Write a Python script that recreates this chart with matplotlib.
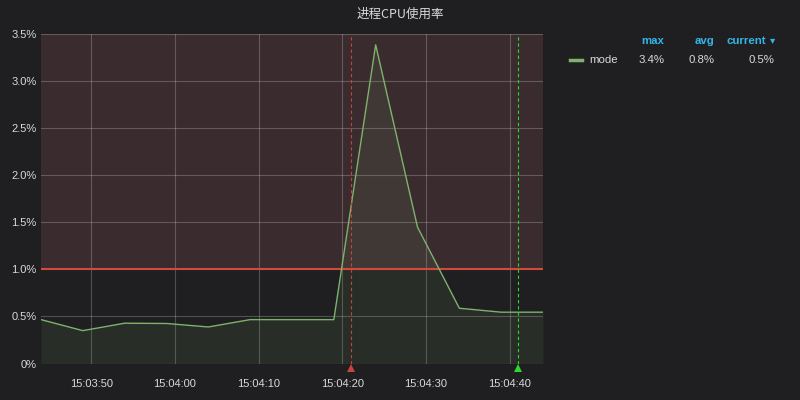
import matplotlib
matplotlib.use("Agg")
import matplotlib.pyplot as plt
import matplotlib.transforms as mtransforms
from datetime import datetime

plt.rcParams['font.family'] = ['Liberation Sans', 'Noto Sans CJK SC', 'DejaVu Sans']

# --- données ---
title = "进程CPU使用率"
series_name = "mode"
times = ["15:03:44", "15:03:49", "15:03:54", "15:03:59", "15:04:04", "15:04:09",
         "15:04:14", "15:04:19", "15:04:24", "15:04:29", "15:04:34", "15:04:39", "15:04:44"]
cpu_pct = [0.466, 0.349, 0.428, 0.425, 0.388, 0.466, 0.466, 0.466,
           3.385, 1.449, 0.587, 0.545, 0.545]
threshold = 1.0
y_ticks = [0, 0.5, 1.0, 1.5, 2.0, 2.5, 3.0, 3.5]
y_labels = ["0%", "0.5%", "1.0%", "1.5%", "2.0%", "2.5%", "3.0%", "3.5%"]
x_ticks = ["15:03:50", "15:04:00", "15:04:10", "15:04:20", "15:04:30", "15:04:40"]
annotations = ["15:04:21", "15:04:41"]
legend_headers = ["max", "avg", "current"]
legend_values = ["3.4%", "0.8%", "0.5%"]

BG = '#1f1f21'
TXT = '#d8d9da'
GREEN = '#7eb26d'


def t(s):
    return datetime.strptime("2018-01-01 " + s, "%Y-%m-%d %H:%M:%S")


xs = [t(s) for s in times]

fig = plt.figure(figsize=(8, 4), dpi=100, facecolor=BG)
ax = fig.add_axes([41 / 800, 1 - 363.5 / 400, (543 - 41) / 800, (363.5 - 34) / 400])
ax.set_facecolor(BG)

# zone au-dessus du seuil
ax.axhspan(threshold, 3.5, color='#3a2b2e', zorder=0, lw=0)

# grille
for yv in y_ticks:
    ax.axhline(yv, color='#ffffff', alpha=0.22, lw=0.8, zorder=1)
for xv in x_ticks:
    ax.axvline(t(xv), color='#ffffff', alpha=0.22, lw=0.8, zorder=1)

ax.axhline(threshold, color='#d44a3a', lw=1.5, zorder=3)

ax.fill_between(xs, cpu_pct, 0, color=GREEN, alpha=0.1, lw=0, zorder=2)
ax.plot(xs, cpu_pct, color=GREEN, lw=1.0, zorder=4)

# annotations
trans = mtransforms.blended_transform_factory(ax.transData, ax.transAxes)
for a, c in zip(annotations, ['#c8443a', '#2fd62f']):
    ax.axvline(t(a), color=c, lw=0.8, ls=(0, (3, 2.5)), zorder=5)
    ax.plot([t(a)], [-0.015], marker='^', color=c, markersize=6, transform=trans,
            clip_on=False, zorder=6, markeredgewidth=0)

ax.set_xlim(t("15:03:44"), t("15:04:44"))
ax.set_ylim(0, 3.5)
ax.set_yticks(y_ticks)
ax.set_yticklabels(y_labels)
ax.set_xticks([t(s) for s in x_ticks])
ax.set_xticklabels(x_ticks)
ax.tick_params(axis='both', length=0, colors=TXT, labelsize=8)
ax.tick_params(axis='x', pad=11)
ax.tick_params(axis='y', pad=3)
for sp in ax.spines.values():
    sp.set_visible(False)

fig.text(0.5, 1 - 14 / 400, title, ha='center', va='center', color=TXT, fontsize=9,
         family=['Noto Sans CJK SC', 'DejaVu Sans'])

# légende
head_x = [664.5, 714.3, 766.5]
for hx, h in zip(head_x, legend_headers):
    fig.text(hx / 800, 1 - 40.5 / 400, h, ha='right', va='center', color='#33b5e5',
             fontsize=8.2, fontweight='bold')
fig.text(775 / 800, 1 - 40 / 400, "▾", ha='right', va='center', color='#33b5e5',
         fontsize=7.5, family=['DejaVu Sans'])
fig.add_artist(plt.Line2D([570 / 800, 581.5 / 800], [1 - 60 / 400, 1 - 60 / 400],
                          color=GREEN, lw=2.5, transform=fig.transFigure))
fig.text(589 / 800, 1 - 60 / 400, series_name, ha='left', va='center', color=TXT, fontsize=8.2)
for vx, v in zip([664.5, 714.3, 774.7], legend_values):
    fig.text(vx / 800, 1 - 60 / 400, v, ha='right', va='center', color=TXT, fontsize=8.2)

fig.savefig("out.png", dpi=100, facecolor=BG)
